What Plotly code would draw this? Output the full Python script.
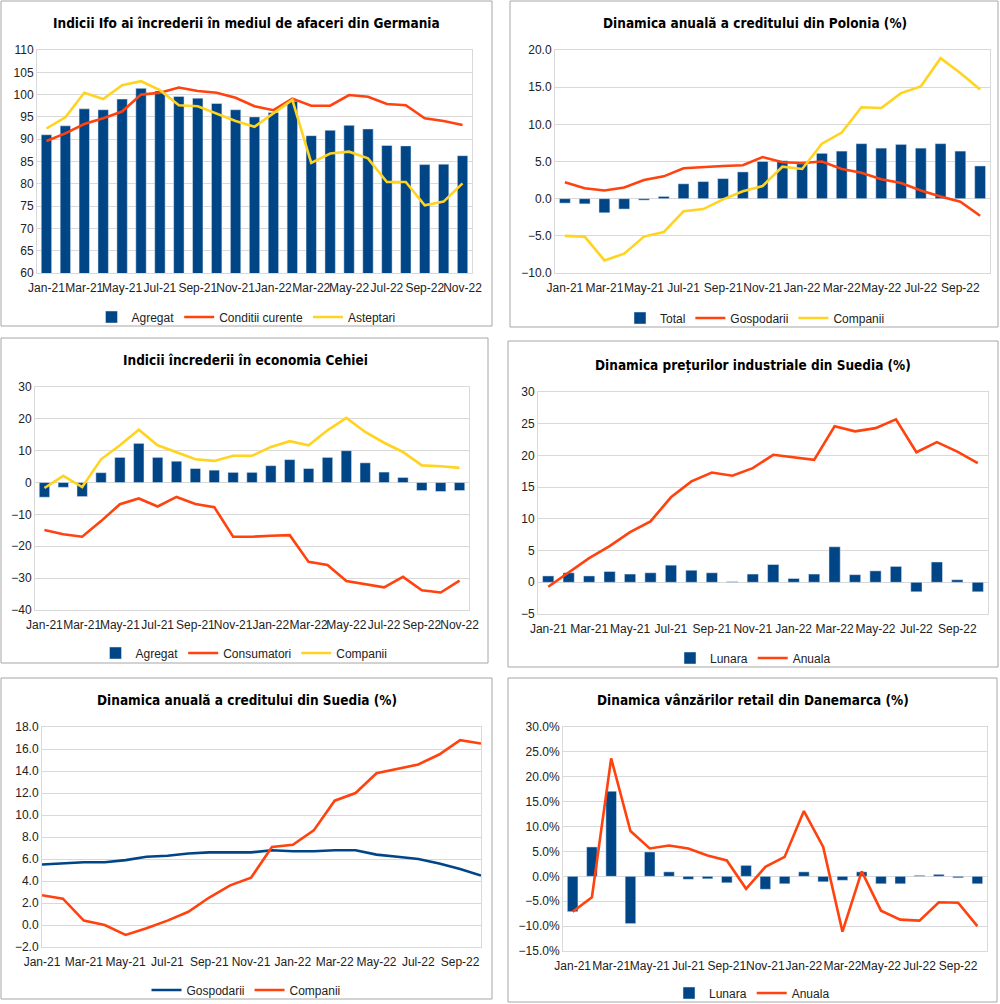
import plotly.graph_objects as go

W, H = 1000, 1004

months = ["Jan-21", "Feb-21", "Mar-21", "Apr-21", "May-21", "Jun-21", "Jul-21", "Aug-21",
          "Sep-21", "Oct-21", "Nov-21", "Dec-21", "Jan-22", "Feb-22", "Mar-22", "Apr-22",
          "May-22", "Jun-22", "Jul-22", "Aug-22", "Sep-22", "Oct-22", "Nov-22"]
months22 = months[:22]

# Germania - Ifo (Jan-21 .. Nov-22)
de_agregat = [91.0, 93.0, 96.8, 96.6, 99.0, 101.4, 100.8, 99.6, 99.2, 98.0, 96.6, 95.0,
              96.0, 98.5, 90.8, 92.0, 93.1, 92.3, 88.6, 88.5, 84.3, 84.4, 86.3]
de_conditii = [89.6, 91.3, 93.4, 94.7, 96.2, 100.0, 100.4, 101.6, 100.8, 100.4, 99.3, 97.4,
               96.5, 99.1, 97.5, 97.5, 99.9, 99.5, 97.9, 97.6, 94.7, 94.1, 93.2]
de_asteptari = [92.4, 94.9, 100.4, 99.0, 102.1, 103.0, 101.0, 97.6, 97.4, 95.8, 94.1, 92.8,
                95.9, 98.8, 84.7, 86.8, 87.2, 85.7, 80.4, 80.4, 75.2, 76.0, 80.1]

# Polonia - credit (Jan-21 .. Oct-22)
pl_total = [-0.6, -0.7, -1.9, -1.4, -0.2, 0.3, 2.0, 2.3, 2.7, 3.6, 5.0, 5.1,
            4.7, 6.1, 6.4, 7.4, 6.8, 7.3, 6.8, 7.4, 6.4, 4.4]
pl_gospodarii = [2.2, 1.4, 1.1, 1.5, 2.5, 3.0, 4.1, 4.3, 4.4, 4.5, 5.6, 4.9,
                 4.8, 5.0, 4.0, 3.5, 2.6, 2.1, 1.1, 0.3, -0.4, -2.3]
pl_companii = [-5.0, -5.1, -8.3, -7.4, -5.1, -4.5, -1.7, -1.4, -0.1, 1.0, 1.7, 4.3,
               4.0, 7.4, 8.9, 12.3, 12.2, 14.2, 15.1, 18.9, 16.9, 14.7]

# Cehia - incredere (Jan-21 .. Nov-22)
cz_agregat = [-4.6, -1.5, -4.4, 3.1, 7.9, 12.3, 7.9, 6.7, 4.4, 3.9, 3.2, 3.2,
              5.3, 7.2, 4.4, 7.9, 10.0, 6.2, 3.3, 1.6, -2.5, -2.8, -2.5]
cz_consumatori = [-14.9, -16.2, -17.0, -12.1, -6.8, -5.0, -7.5, -4.5, -6.7, -7.7, -17.0, -17.0,
                  -16.7, -16.5, -24.9, -25.9, -30.9, -32.0, -32.9, -29.6, -33.8, -34.5, -30.8]
cz_companii = [-1.7, 2.1, -1.4, 7.3, 11.7, 16.6, 11.7, 9.4, 7.3, 6.8, 8.4, 8.4,
               11.2, 13.0, 11.7, 16.4, 20.3, 15.9, 12.5, 9.6, 5.4, 5.1, 4.6]

# Suedia - preturi industriale (Jan-21 .. Oct-22)
se_lunara = [1.0, 1.5, 1.0, 1.7, 1.3, 1.5, 2.7, 1.9, 1.5, 0.1, 1.3, 2.8,
             0.6, 1.3, 5.6, 1.2, 1.8, 2.5, -1.5, 3.2, 0.4, -1.5]
se_anuala = [-0.7, 1.6, 3.8, 5.7, 7.9, 9.6, 13.4, 15.9, 17.3, 16.8, 18.0, 20.1,
             19.7, 19.3, 24.6, 23.8, 24.3, 25.7, 20.5, 22.1, 20.6, 18.8]

# Suedia - credit (Jan-21 .. Oct-22)
sec_gospodarii = [5.5, 5.6, 5.7, 5.7, 5.9, 6.2, 6.3, 6.5, 6.6, 6.6, 6.6, 6.8,
                  6.7, 6.7, 6.8, 6.8, 6.4, 6.2, 6.0, 5.6, 5.1, 4.5]
sec_companii = [2.7, 2.4, 0.4, 0.0, -0.9, -0.3, 0.4, 1.2, 2.5, 3.6, 4.3, 7.1,
                7.3, 8.6, 11.3, 12.0, 13.8, 14.2, 14.6, 15.5, 16.8, 16.5]

# Danemarca - retail (Jan-21 .. Oct-22), %
dk_lunara = [-7.1, 5.9, 17.1, -9.5, 4.9, 0.9, -0.6, -0.5, -1.3, 2.2, -2.6, -1.5,
             0.9, -1.1, -0.8, 0.9, -1.5, -1.5, 0.2, 0.4, -0.3, -1.5]
dk_anuala = [-7.1, -4.2, 23.7, 9.1, 5.6, 6.2, 5.6, 4.2, 3.2, -2.5, 1.9, 3.9,
             13.1, 5.9, -11.1, 1.0, -6.9, -8.7, -8.9, -5.2, -5.3, -10.0]

NAVY = "#004586"
RED = "#ff420e"
YELLOW = "#ffd320"
GRID = "#d9d9d9"
TXT = "#222222"
TICKFONT = dict(family="Liberation Sans, Arial, sans-serif", size=12, color=TXT)
TITLEFONT = dict(family="Liberation Sans Narrow, DejaVu Sans Condensed, Arial Narrow, sans-serif",
                 size=13.5, color="#000000")


def fx(x):
    return x / W


def fy(y):
    return 1 - y / H


panels = [
    dict(title="<b>Indicii Ifo ai încrederii în mediul de afaceri din Germania</b>",
         tpos=(246, 23), plot=(37, 50, 472, 273), box=(1, 1, 492, 326), leg=(246, 317),
         cats=months, yr=[60, 110], dt=5, fmt="", suf="", xr=None,
         traces=[("bar", "Agregat", de_agregat, NAVY),
                 ("line", "Conditii curente", de_conditii, RED),
                 ("line", "Asteptari", de_asteptari, YELLOW)]),
    dict(title="<b>Dinamica anuală a creditului din Polonia (%)</b>",
         tpos=(755, 23), plot=(555, 50, 990, 273), box=(510, 1, 998, 327), leg=(755, 318),
         cats=months22, yr=[-10, 20], dt=5, fmt=".1f", suf="", xr=None,
         traces=[("bar", "Total", pl_total, NAVY),
                 ("line", "Gospodarii", pl_gospodarii, RED),
                 ("line", "Companii", pl_companii, YELLOW)]),
    dict(title="<b>Indicii încrederii în economia Cehiei</b>",
         tpos=(245, 360), plot=(35, 387, 469, 610), box=(1, 338, 488, 663), leg=(244, 653),
         cats=months, yr=[-40, 30], dt=10, fmt="", suf="", xr=None,
         traces=[("bar", "Agregat", cz_agregat, NAVY),
                 ("line", "Consumatori", cz_consumatori, RED),
                 ("line", "Companii", cz_companii, YELLOW)]),
    dict(title="<b>Dinamica prețurilor industriale din Suedia (%)</b>",
         tpos=(753, 365), plot=(538, 392, 988, 614), box=(508, 341, 998, 667), leg=(753, 658),
         cats=months22, yr=[-5, 30], dt=5, fmt="", suf="", xr=None,
         traces=[("bar", "Lunara", se_lunara, NAVY),
                 ("line", "Anuala", se_anuala, RED)]),
    dict(title="<b>Dinamica anuală a creditului din Suedia (%)</b>",
         tpos=(247, 700), plot=(42, 727, 481, 947), box=(1, 678, 492, 999), leg=(246, 990),
         cats=months22, yr=[-2, 18], dt=2, fmt=".1f", suf="", xr=[0, 21],
         traces=[("line", "Gospodarii", sec_gospodarii, NAVY),
                 ("line", "Companii", sec_companii, RED)]),
    dict(title="<b>Dinamica vânzărilor retail din Danemarca (%)</b>",
         tpos=(753, 700), plot=(563, 727, 987, 951), box=(508, 678, 997, 1002), leg=(752, 993),
         cats=months22, yr=[-15, 30], dt=5, fmt=".1f", suf="%", xr=None,
         traces=[("bar", "Lunara", dk_lunara, NAVY),
                 ("line", "Anuala", dk_anuala, RED)]),
]

fig = go.Figure()
layout = dict(width=W, height=H, margin=dict(l=0, r=0, t=0, b=0, autoexpand=False),
              plot_bgcolor="white", paper_bgcolor="white", bargap=0.45,
              showlegend=True, shapes=[], annotations=[])

for i, p in enumerate(panels, start=1):
    xa = "x" if i == 1 else f"x{i}"
    ya = "y" if i == 1 else f"y{i}"
    lg = "legend" if i == 1 else f"legend{i}"
    for kind, name, vals, col in p["traces"]:
        if kind == "bar":
            fig.add_trace(go.Bar(x=p["cats"], y=vals, name=name, marker_color=col,
                                 xaxis=xa, yaxis=ya, legend=lg))
        else:
            fig.add_trace(go.Scatter(x=p["cats"], y=vals, name=name, mode="lines",
                                     line=dict(color=col, width=2.6),
                                     xaxis=xa, yaxis=ya, legend=lg))

    x0, y0, x1, y1 = p["plot"]
    xkey = "xaxis" if i == 1 else f"xaxis{i}"
    ykey = "yaxis" if i == 1 else f"yaxis{i}"
    layout[xkey] = dict(domain=[fx(x0), fx(x1)], anchor=ya, type="category",
                        categoryorder="array", categoryarray=p["cats"],
                        tickvals=p["cats"][::2], ticktext=p["cats"][::2], tickangle=0,
                        tickfont=TICKFONT, showgrid=False, showline=True, mirror=True,
                        linecolor=GRID, linewidth=1, zeroline=False, automargin=False,
                        ticks="outside", ticklen=4, tickcolor="#ffffff")
    if p["xr"] is not None:
        layout[xkey]["range"] = p["xr"]
    layout[ykey] = dict(domain=[fy(y1), fy(y0)], anchor=xa, range=p["yr"], dtick=p["dt"],
                        tickformat=p["fmt"], ticksuffix=p["suf"], tickfont=TICKFONT,
                        showgrid=True, gridcolor=GRID, gridwidth=1, showline=True,
                        mirror=True, linecolor=GRID, linewidth=1, zeroline=False,
                        automargin=False)

    lx, ly = p["leg"]
    layout[lg] = dict(orientation="h", x=fx(lx), y=fy(ly), xanchor="center", yanchor="middle",
                      font=dict(family="Liberation Sans, Arial, sans-serif", size=12, color=TXT),
                      bgcolor="rgba(0,0,0,0)", itemwidth=30)

    bx0, by0, bx1, by1 = p["box"]
    layout["shapes"].append(dict(type="rect", xref="paper", yref="paper",
                                 x0=fx(bx0), x1=fx(bx1), y0=fy(by1), y1=fy(by0),
                                 line=dict(color="#a6a6a6", width=1), layer="below"))

    tx, ty = p["tpos"]
    layout["annotations"].append(dict(text=p["title"], xref="paper", yref="paper",
                                      x=fx(tx), y=fy(ty), xanchor="center", yanchor="middle",
                                      showarrow=False, font=TITLEFONT))

fig.update_layout(**layout)
# drop the default page margin so the figure sits at the window's top-left corner
fig.write_html("out.html", config={"displayModeBar": False},
               post_script="document.body.style.margin='0';document.body.style.overflow='hidden';")
